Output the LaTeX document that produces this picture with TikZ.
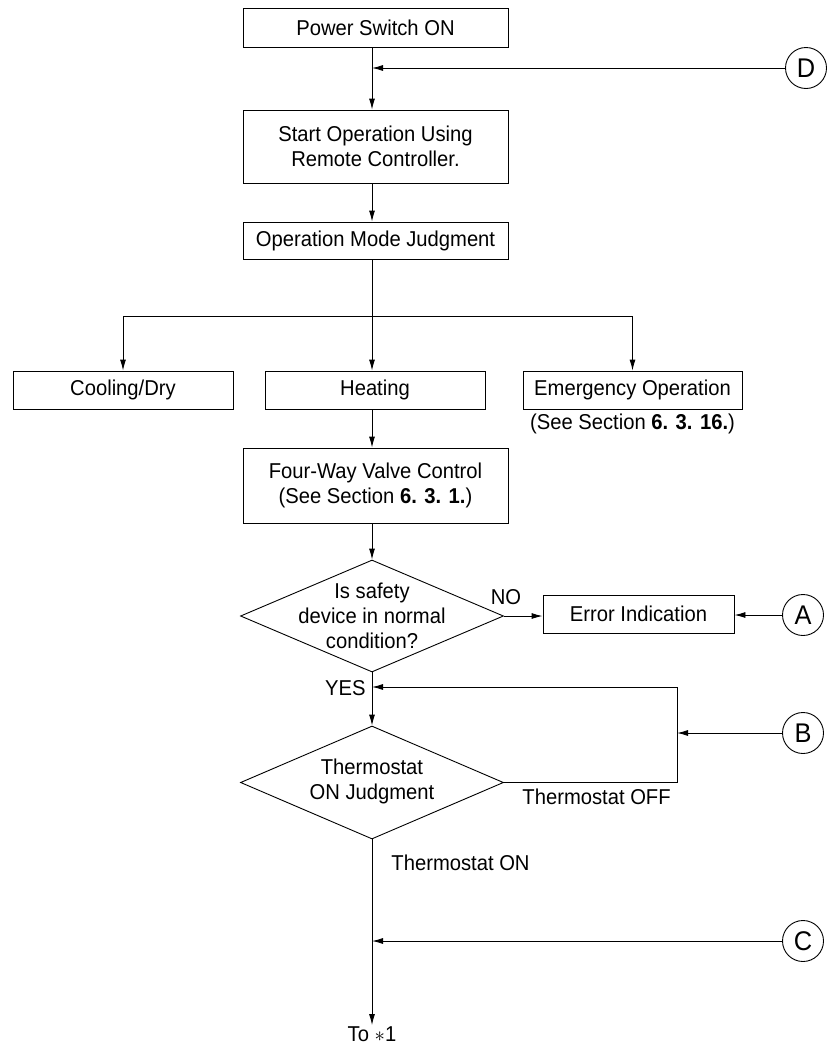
\documentclass[tikz,border=0pt]{standalone}
\usepackage{fontspec}
\setmainfont{Liberation Sans}[FakeStretch=0.94]
\usetikzlibrary{arrows.meta,shapes.geometric,positioning}

\tikzset{
  box/.style={draw, inner sep=0pt, align=center},
  decision/.style={draw, diamond, inner sep=0pt},
  connector/.style={draw, circle, minimum size=41pt, inner sep=0pt, font=\fontsize{27}{28}\selectfont},
  lbl/.style={inner sep=1pt}
}

\begin{document}
\begin{tikzpicture}[x=1pt,y=-1pt, line width=0.9pt,
    >={Latex[length=11pt,width=6pt]},
    font=\fontsize{21.5}{25}\selectfont]
  \useasboundingbox (0,0) rectangle (828,1047);
  \coordinate (axis) at (372,0);

  % Kaesten oben
  \node[box, minimum width=265pt, minimum height=39pt] (power) at (375.5,27.5) {Power Switch ON};
  \node[box, minimum width=265pt, minimum height=73pt] (start) at (375.5,146.5) {Start Operation Using\\Remote Controller.};
  \node[box, minimum width=265pt, minimum height=37pt] (mode) at (375.5,240.5) {Operation Mode Judgment};

  % Betriebsarten
  \node[box, minimum width=220pt, minimum height=38pt] (cool) at (123,390) {Cooling/Dry};
  \node[box, minimum width=220pt, minimum height=38pt] (heat) at (375,390) {Heating};
  \node[box, minimum width=219pt, minimum height=38pt] (emerg) at (632.5,390) {Emergency Operation};
  \node[lbl, below=3pt of emerg] (emergref) {(See Section \textbf{6. 3. 16.})};

  \node[box, minimum width=265pt, minimum height=75pt] (valve) at (375.5,485.5) {Four-Way Valve Control\\(See Section \textbf{6. 3. 1.})};

  % Abfragen
  \node[decision, minimum width=263pt, minimum height=112pt] (safety) at (372,616) {};
  \node[align=center] at (safety) {Is safety\\device in normal\\condition?};
  \node[box, minimum width=191pt, minimum height=38pt] (error) at (638.5,614) {Error Indication};

  \node[decision, minimum width=263pt, minimum height=113pt] (therm) at (372,782.5) {};
  \node[align=center] at ([yshift=1pt]therm) {Thermostat\\ON Judgment};

  % Anschlusspunkte
  \node[connector] (D) at (806,68) {D};
  \node[connector] (A) at (803,615) {A};
  \node[connector] (B) at (803,733) {B};
  \node[connector] (C) at (803,941) {C};

  \coordinate (split) at (372,316);
  \coordinate (yes) at (372,687);
  \coordinate (loopTop) at (677,687);
  \coordinate (loopBot) at (677,782.5);

  \node[lbl] (toend) at (372,1034) {To $\ast$1};

  % Verbindungen
  \draw[->] (power.south -| axis) -- (start.north -| axis);
  \draw[->] (D) -- (D -| axis);
  \draw[->] (start.south -| axis) -- (mode.north -| axis);
  \draw (mode.south -| axis) -- (split);
  \draw[->] (split) -- (heat.north -| axis);
  \draw (cool.north |- split) -- (emerg.north |- split);
  \draw[->] (cool.north |- split) -- (cool);
  \draw[->] (emerg.north |- split) -- (emerg);
  \draw[->] (heat.south -| axis) -- (valve.north -| axis);
  \draw[->] (valve.south -| axis) -- (safety.north);
  \draw[->] (safety.east) -- (safety.east -| error.west);
  \draw[->] (A) -- (A -| error.east);
  \draw[->] (safety.south) -- (therm.north);
  \draw[->] (therm.east) -- (loopBot) -- (loopTop) -- (yes);
  \draw[->] (B) -- (B -| loopTop);
  \draw[->] (therm.south) -- (toend);
  \draw[->] (C) -- (C -| therm.south);

  % Beschriftungen
  \node[lbl] at (506,597) {NO};
  \node[lbl, anchor=east] at (367,688) {YES};
  \node[lbl, anchor=west] at (521,797) {Thermostat OFF};
  \node[lbl, anchor=west] at (390,863) {Thermostat ON};
\end{tikzpicture}
\end{document}
